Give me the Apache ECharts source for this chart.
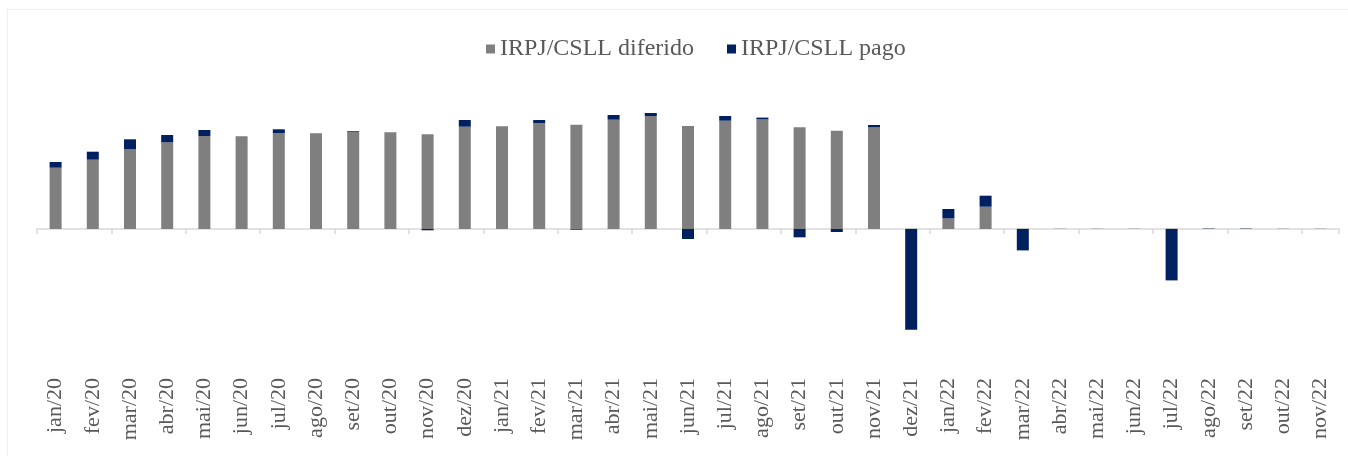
<!DOCTYPE html>
<html>
<head>
<meta charset="utf-8">
<script src="https://cdn.jsdelivr.net/npm/echarts@6/dist/echarts.min.js"></script>
<style>
  html, body { margin: 0; padding: 0; background: #fff; }
  #frame {
    position: absolute; left: 7px; top: 9px; width: 1360px; height: 460px;
    border: 1px solid #efefef; box-sizing: border-box;
  }
  #main { position: absolute; left: 0; top: 0; width: 1348px; height: 456px; }
</style>
</head>
<body>
<div id="frame"></div>
<div id="main"></div>
<script>
// meses
var months = [
  'jan/20', 'fev/20', 'mar/20', 'abr/20', 'mai/20', 'jun/20', 'jul/20', 'ago/20', 'set/20', 'out/20', 'nov/20', 'dez/20',
  'jan/21', 'fev/21', 'mar/21', 'abr/21', 'mai/21', 'jun/21', 'jul/21', 'ago/21', 'set/21', 'out/21', 'nov/21', 'dez/21',
  'jan/22', 'fev/22', 'mar/22', 'abr/22', 'mai/22', 'jun/22', 'jul/22', 'ago/22', 'set/22', 'out/22', 'nov/22'
];
// IRPJ/CSLL diferido
var diferido = [
  61.3, 69.3, 79.7, 86.7, 93, 92.7, 96, 95.7, 97.3, 96.7, 94.7, 102.3,
  102.7, 106, 104.3, 109.3, 113, 103, 108.3, 109.7, 101.7, 98.3, 101.7, 0.3,
  10.6, 22.3, 0.3, 0.3, 0.3, 0.3, 0.3, 0.2, 0.2, 0.3, 0.3
];
// IRPJ/CSLL pago
var pago = [
  5.7, 8, 10, 7.3, 6, 0, 3.7, 0, 0.7, 0, -1.3, 6.7,
  0, 3, -0.7, 4.7, 3, -10, 4.7, 1.7, -8.3, -3, 2.3, -100.7,
  9.4, 11, -21.4, 0, 0, 0, -51.4, 0.3, 0.3, 0, 0
];

var myChart = echarts.init(document.getElementById('main'));
myChart.setOption({
  animation: false,
  textStyle: { fontFamily: 'Liberation Serif' },
  legend: {
    top: 32,
    left: 481,
    itemWidth: 9,
    itemHeight: 9,
    itemGap: 33,
    icon: 'rect',
    textStyle: { fontSize: 24, color: '#595959', fontFamily: 'Liberation Serif' }
  },
  grid: { left: 37, right: 9, top: 80, bottom: 84 },
  xAxis: [
    {
      type: 'category',
      data: months,
      position: 'bottom',
      axisLine: { show: false, onZero: false },
      axisTick: { show: false },
      axisLabel: {
        rotate: 90,
        fontSize: 22,
        color: '#595959',
        fontFamily: 'Liberation Serif',
        margin: 6
      }
    },
    {
      type: 'category',
      data: months,
      position: 'top',
      axisLine: { show: true, onZero: true, lineStyle: { color: '#d9d9d9', width: 1.5 } },
      axisTick: { show: true, inside: true, length: 5, lineStyle: { color: '#d9d9d9', width: 1.5 } },
      axisLabel: { show: false }
    }
  ],
  yAxis: {
    type: 'value',
    min: -143,
    max: 149,
    show: false,
    splitLine: { show: false }
  },
  series: [
    {
      name: 'IRPJ/CSLL diferido',
      type: 'bar',
      stack: 'total',
      barWidth: 12,
      itemStyle: { color: '#7f7f7f' },
      data: diferido
    },
    {
      name: 'IRPJ/CSLL pago',
      type: 'bar',
      stack: 'total',
      barWidth: 12,
      itemStyle: { color: '#002060' },
      data: pago
    }
  ]
});
</script>
</body>
</html>
